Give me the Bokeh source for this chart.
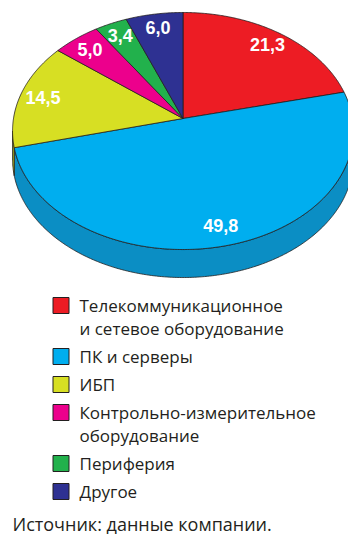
import numpy as np
from bokeh.plotting import figure
from bokeh.models import Range1d
from bokeh.core.properties import value
from bokeh.embed import file_html
from bokeh.resources import INLINE

# ---------------- data ----------------
categories = [
    "Телекоммуникационное\nи сетевое оборудование",
    "ПК и серверы",
    "ИБП",
    "Контрольно-измерительное\nоборудование",
    "Периферия",
    "Другое",
]
shares = [21.3, 49.8, 14.5, 5.0, 3.4, 6.0]
share_labels = ["21,3", "49,8", "14,5", "5,0", "3,4", "6,0"]
source_note = "Источник: данные компании."

# ---------------- style ----------------
colors = ["#ed1c24", "#00aeef", "#d7df23", "#ec008c", "#22b14c", "#2e3192"]
side_colors = ["#b8161c", "#0b8ec4", "#aab21c", "#b8006d", "#1a8a3b", "#232672"]
edge = "#231f20"

W, H = 348, 534
p = figure(width=W, height=H, x_range=Range1d(0, W), y_range=Range1d(H, 0),
           output_backend="svg", toolbar_location=None, min_border=0)
p.axis.visible = False
p.grid.visible = False
p.outline_line_color = None
p.background_fill_color = "white"

# pie geometry (pixel coordinates), perspective disc
cx, cy = 182.5, 118.0
a, b, k = 169.5, 117.2, 0.1055
depth = 28.0


def proj(u, v):
    d = 1 + k * v
    return cx + a * u / d, cy - b * v / d


vals = np.array(shares, dtype=float)
cum = np.concatenate([[0], np.cumsum(vals)]) / vals.sum() * 360.0
t_start = 90.0 - cum[:-1]
t_end = 90.0 - cum[1:]

# top faces
top_xs, top_ys = [], []
for t1, t2 in zip(t_start, t_end):
    th = np.radians(np.linspace(t1, t2, max(8, int(abs(t1 - t2) * 2))))
    x, y = proj(np.cos(th), np.sin(th))
    top_xs.append(np.concatenate([[cx], x, [cx]]).tolist())
    top_ys.append(np.concatenate([[cy], y, [cy]]).tolist())

# side bands (visible front half between silhouette tangent points)
tan = np.degrees(np.arcsin(k))
f_lo, f_hi = -180 + tan, -tan
side_xs, side_ys, side_fc = [], [], []
for i, (t1, t2) in enumerate(zip(t_start, t_end)):
    for n in (-1, 0, 1):
        lo = max(t2, f_lo + 360 * n)
        hi = min(t1, f_hi + 360 * n)
        if hi > lo:
            th = np.radians(np.linspace(lo, hi, max(6, int((hi - lo) * 2))))
            x, y = proj(np.cos(th), np.sin(th))
            side_xs.append(np.concatenate([x, x[::-1]]).tolist())
            side_ys.append(np.concatenate([y, (y + depth)[::-1]]).tolist())
            side_fc.append(side_colors[i])

p.patches(side_xs, side_ys, fill_color=side_fc, line_color=edge, line_width=0.8)
p.patches(top_xs, top_ys, fill_color=colors, line_color=edge, line_width=0.8)

# value labels
mid = np.radians((t_start + t_end) / 2)
r_lab = 0.86
lx, ly = proj(r_lab * np.cos(mid), r_lab * np.sin(mid))
p.text(x=lx, y=ly, text=share_labels, text_color="white", text_font=value("Liberation Sans"),
       text_font_style="bold", text_font_size="18px", text_align="center",
       text_baseline="middle")

# legend
leg_x_box, leg_x_text = 60.5, 79.0
row0, row_step, line_step = 305.0, 28.0, 23.0
box_y, t_x, t_y, t_s = [], [], [], []
y = row0
for lab in categories:
    lines = lab.split("\n")
    box_y.append(y)
    for j, ln in enumerate(lines):
        t_x.append(leg_x_text)
        t_y.append(y + j * line_step)
        t_s.append(ln)
    y += row_step + line_step * (len(lines) - 1)

p.rect(x=[leg_x_box] * len(categories), y=box_y, width=16, height=16,
       fill_color=colors, line_color=edge, line_width=1)
p.text(x=t_x, y=t_y, text=t_s, text_color="#231f20", text_font=value("Open Sans"),
       text_font_size="17px", text_align="left", text_baseline="middle")

p.text(x=[12], y=[523], text=[source_note], text_color="#231f20",
       text_font=value("Open Sans"), text_font_size="18px",
       text_align="left", text_baseline="middle")

open("out.html", "w").write(file_html(p, INLINE))
